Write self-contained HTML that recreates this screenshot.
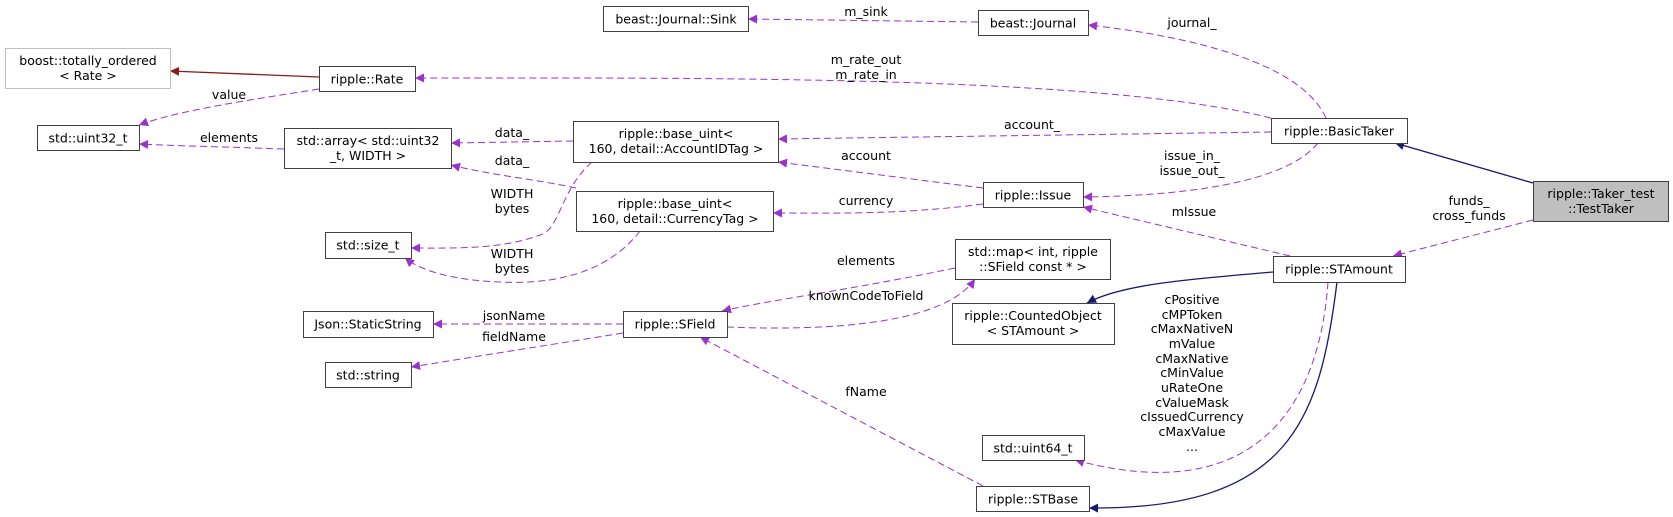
<!DOCTYPE html>
<html><head><meta charset="utf-8"><style>
html,body{margin:0;padding:0;background:#fff;}
svg{display:block;font-family:"DejaVu Sans","Liberation Sans",sans-serif;font-size:12.5px;}
</style></head><body>
<svg width="1673" height="517" viewBox="0 0 1673 517" xmlns="http://www.w3.org/2000/svg">
<defs>
<marker id="p" viewBox="0 0 10 10" refX="10" refY="5" markerWidth="11" markerHeight="9" markerUnits="userSpaceOnUse" orient="auto"><path d="M0,0 L10,5 L0,10 z" fill="#9a32cd"/></marker>
<marker id="n" viewBox="0 0 10 10" refX="10" refY="5" markerWidth="11" markerHeight="9" markerUnits="userSpaceOnUse" orient="auto"><path d="M0,0 L10,5 L0,10 z" fill="#191970"/></marker>
<marker id="r" viewBox="0 0 10 10" refX="10" refY="5" markerWidth="11" markerHeight="9" markerUnits="userSpaceOnUse" orient="auto"><path d="M0,0 L10,5 L0,10 z" fill="#8b1a1a"/></marker>
</defs>
<g fill="none" stroke="#9a32cd" stroke-width="1" stroke-dasharray="7,4">
<path d="M978,22 L748,19" marker-end="url(#p)"/>
<path d="M1326,118 C1300,60 1180,35 1088,25" marker-end="url(#p)"/>
<path d="M1271,118 C1100,75 700,78 415,78" marker-end="url(#p)"/>
<path d="M319,89 C250,100 180,110 139,125" marker-end="url(#p)"/>
<path d="M284,149 C230,147 180,146 139,144" marker-end="url(#p)"/>
<path d="M573,141 L451,143" marker-end="url(#p)"/>
<path d="M576,188 C540,180 490,175 451,165" marker-end="url(#p)"/>
<path d="M592,162 C560,190 560,230 540,235 C500,250 450,248 411,248" marker-end="url(#p)"/>
<path d="M640,231 C610,270 560,285 500,282 C450,280 420,270 405,258" marker-end="url(#p)"/>
<path d="M1271,132 L778,139" marker-end="url(#p)"/>
<path d="M983,188 L778,162" marker-end="url(#p)"/>
<path d="M983,204 C900,215 830,213 773,213" marker-end="url(#p)"/>
<path d="M1318,143 C1280,190 1150,196 1083,197" marker-end="url(#p)"/>
<path d="M1533,220 L1393,256" marker-end="url(#p)"/>
<path d="M1290,256 L1083,207" marker-end="url(#p)"/>
<path d="M1328,282 C1320,400 1260,510 1075,460" marker-end="url(#p)"/>
<path d="M955,268 C850,290 770,300 722,311" marker-end="url(#p)"/>
<path d="M727,327 C800,330 940,330 975,279" marker-end="url(#p)"/>
<path d="M623,324 L433,324" marker-end="url(#p)"/>
<path d="M623,333 L411,367" marker-end="url(#p)"/>
<path d="M983,486 L700,337" marker-end="url(#p)"/>
</g>
<g fill="none" stroke-width="1.3">
<path d="M319,77 L170,71" stroke="#8b1a1a" marker-end="url(#r)"/>
<path d="M1533,183 L1395,143" stroke="#191970" marker-end="url(#n)"/>
<path d="M1273,272 C1180,280 1120,285 1087,303" stroke="#191970" marker-end="url(#n)"/>
<path d="M1337,282 C1320,420 1290,510 1089,508" stroke="#191970" marker-end="url(#n)"/>
</g>
<g stroke="#404040" stroke-width="1" fill="#fff">
<rect x="603.5" y="6.5" width="145" height="25"/>
<rect x="978.5" y="10.5" width="110" height="25"/>
<rect x="5.5" y="48.5" width="165" height="40" stroke="#bfbfbf"/>
<rect x="319.5" y="66.5" width="96" height="25"/>
<rect x="37.5" y="125.5" width="102" height="25"/>
<rect x="284.5" y="128.5" width="167" height="40"/>
<rect x="573.5" y="121.5" width="205" height="41"/>
<rect x="1271.5" y="118.5" width="136" height="25"/>
<rect x="983.5" y="182.5" width="100" height="25"/>
<rect x="576.5" y="191.5" width="197" height="40"/>
<rect x="325.5" y="232.5" width="86" height="26"/>
<rect x="1533.5" y="181.5" width="135" height="40" fill="#bfbfbf"/>
<rect x="1273.5" y="256.5" width="132" height="26"/>
<rect x="955.5" y="239.5" width="155" height="40"/>
<rect x="952.5" y="303.5" width="162" height="41"/>
<rect x="303.5" y="311.5" width="130" height="26"/>
<rect x="623.5" y="311.5" width="104" height="26"/>
<rect x="325.5" y="362.5" width="86" height="25"/>
<rect x="982.5" y="435.5" width="102" height="25"/>
<rect x="976.5" y="486.5" width="113" height="25"/>
</g>
<g fill="#000" text-anchor="middle">
<text x="676" y="23.5">beast::Journal::Sink</text>
<text x="1033" y="27.5">beast::Journal</text>
<text x="88" y="65">boost::totally_ordered</text>
<text x="88" y="80">&lt; Rate &gt;</text>
<text x="367" y="83.5">ripple::Rate</text>
<text x="88" y="142.5">std::uint32_t</text>
<text x="368" y="145">std::array&lt; std::uint32</text>
<text x="368" y="160">_t, WIDTH &gt;</text>
<text x="676" y="138">ripple::base_uint&lt;</text>
<text x="676" y="153">160, detail::AccountIDTag &gt;</text>
<text x="1339" y="135.5">ripple::BasicTaker</text>
<text x="1033" y="199.5">ripple::Issue</text>
<text x="675" y="208">ripple::base_uint&lt;</text>
<text x="675" y="223">160, detail::CurrencyTag &gt;</text>
<text x="368" y="249.5">std::size_t</text>
<text x="1601" y="198">ripple::Taker_test</text>
<text x="1601" y="213">::TestTaker</text>
<text x="1339" y="273.5">ripple::STAmount</text>
<text x="1033" y="256">std::map&lt; int, ripple</text>
<text x="1033" y="271">::SField const * &gt;</text>
<text x="1033" y="320">ripple::CountedObject</text>
<text x="1033" y="335">&lt; STAmount &gt;</text>
<text x="368" y="328.5">Json::StaticString</text>
<text x="675" y="328.5">ripple::SField</text>
<text x="368" y="379.5">std::string</text>
<text x="1033" y="452.5">std::uint64_t</text>
<text x="1033" y="503.5">ripple::STBase</text>
</g>
<g fill="#000" text-anchor="middle">
<text x="866" y="16">m_sink</text>
<text x="1192" y="27">journal_</text>
<text x="866" y="64">m_rate_out</text>
<text x="866" y="79">m_rate_in</text>
<text x="229" y="99">value</text>
<text x="229" y="142">elements</text>
<text x="512" y="137">data_</text>
<text x="512" y="165">data_</text>
<text x="1032" y="129">account_</text>
<text x="866" y="160">account</text>
<text x="1192" y="160">issue_in_</text>
<text x="1192" y="175">issue_out_</text>
<text x="866" y="205">currency</text>
<text x="1194" y="216">mIssue</text>
<text x="1469" y="205">funds_</text>
<text x="1469" y="220">cross_funds</text>
<text x="512" y="198">WIDTH</text>
<text x="512" y="213">bytes</text>
<text x="512" y="258">WIDTH</text>
<text x="512" y="273">bytes</text>
<text x="866" y="265">elements</text>
<text x="866" y="300">knownCodeToField</text>
<text x="514" y="320">jsonName</text>
<text x="514" y="341">fieldName</text>
<text x="866" y="396">fName</text>
<text x="1192" y="304">cPositive</text>
<text x="1192" y="319">cMPToken</text>
<text x="1192" y="333">cMaxNativeN</text>
<text x="1192" y="348">mValue</text>
<text x="1192" y="363">cMaxNative</text>
<text x="1192" y="377">cMinValue</text>
<text x="1192" y="392">uRateOne</text>
<text x="1192" y="407">cValueMask</text>
<text x="1192" y="421">cIssuedCurrency</text>
<text x="1192" y="436">cMaxValue</text>
<text x="1192" y="451">...</text>
</g>
</svg>
</body></html>
